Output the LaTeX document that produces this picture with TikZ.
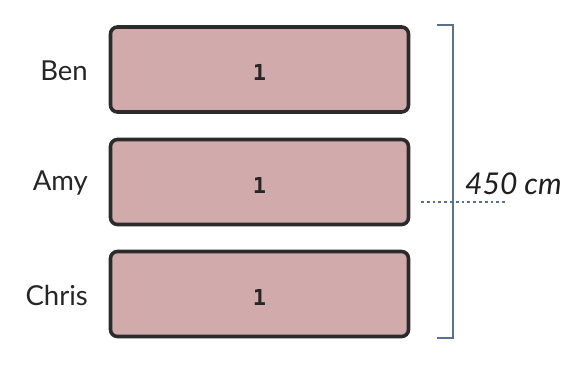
\documentclass[tikz,border=0pt]{standalone}
\usepackage{fontspec}
\setmainfont{Lato}
\newfontfamily\monob{DejaVu Sans Mono}
\begin{document}
\begin{tikzpicture}[x=1pt,y=-1pt,
  bar/.style={draw=black!83, line width=3.6pt, fill=barfill, rounded corners=7pt, minimum width=298pt, minimum height=85pt, inner sep=0pt},
  lname/.style={anchor=east, font=\fontsize{27.5}{32}\selectfont, text=black!85, inner sep=0pt},
  val/.style={font=\monob\bfseries\fontsize{22}{26}\selectfont, text=black!85},
  brk/.style={draw=brkcol, line width=2.4pt}]
\definecolor{barfill}{HTML}{D1ABAB}
\definecolor{brkcol}{HTML}{5A7090}
\useasboundingbox (0,0) rectangle (588,364);
\node[bar] (b1) at (259.5,69.5) {};
\node[bar] (b2) at (259.5,182) {};
\node[bar] (b3) at (259.5,294) {};
\node[val] (v1) at ([yshift=-3pt]b1) {1};
\node[val] (v2) at ([yshift=-3pt]b2) {1};
\node[val] (v3) at ([yshift=-3pt]b3) {1};
\node[lname] (n1) at (88,71) {Ben};
\node[lname] (n2) at (88,183) {Amy};
\node[lname] (n3) at (88,295) {Chris};
\coordinate (bt) at (437,25);
\coordinate (bb) at (437,338);
\draw[brk] (bt) -- (453,25) -- (453,338) -- (bb);
\coordinate (d1) at (421,202);
\coordinate (d2) at (507,202);
\draw[brkcol, line width=2.8pt, dash pattern=on 2.8pt off 3pt] (d1) -- (d2);
\node[font=\itshape\fontsize{30}{35}\selectfont, text=black!88, anchor=west, inner sep=0pt] (lbl) at (465,184) {450 cm};
\end{tikzpicture}
\end{document}
